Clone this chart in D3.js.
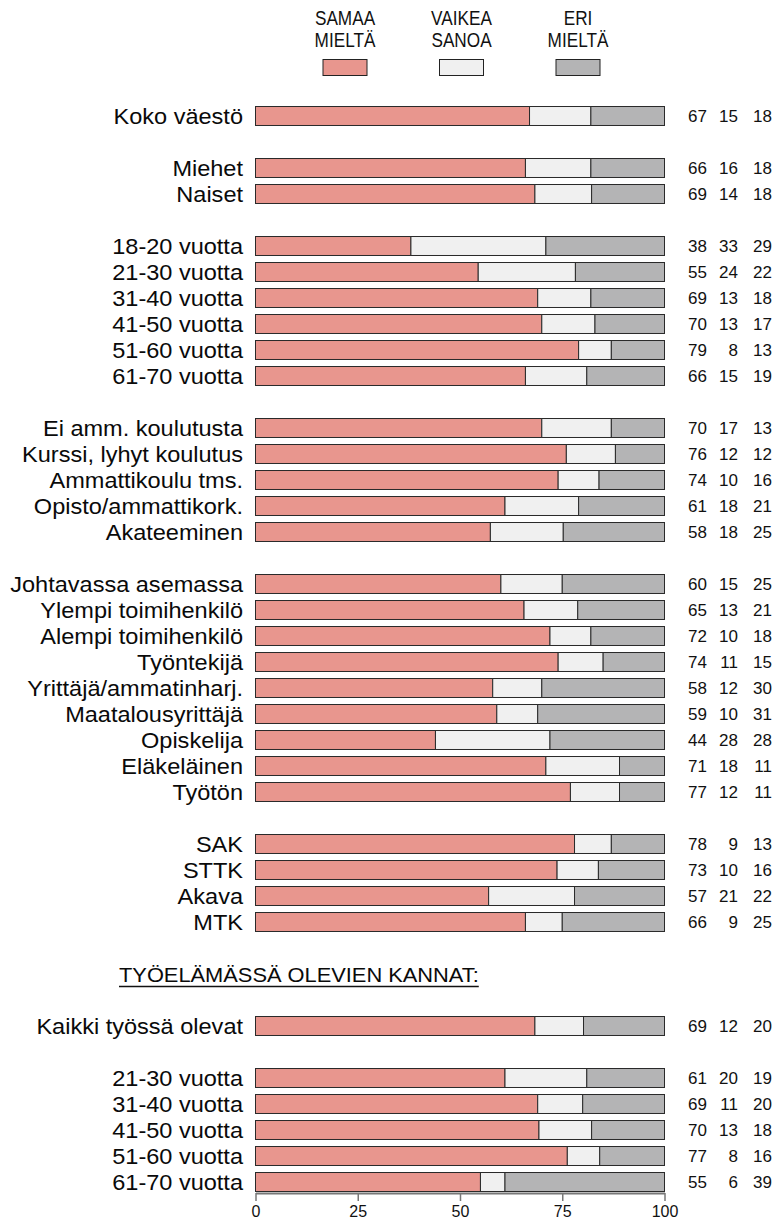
<!DOCTYPE html>
<html>
<head>
<meta charset="utf-8">
<script src="https://cdn.jsdelivr.net/npm/d3@7"></script>
<style>
  body { margin: 0; background: #fff; }
  svg { font-family: "Liberation Sans", Arial, sans-serif; }
</style>
</head>
<body>
<div id="chart"></div>
<script>
// rows of the chart, null = empty row between groups
const sectionTitle = "TYÖELÄMÄSSÄ OLEVIEN KANNAT:";
const labels = [
	"Koko väestö", null,
	"Miehet", "Naiset", null,
	"18-20 vuotta", "21-30 vuotta", "31-40 vuotta", "41-50 vuotta", "51-60 vuotta", "61-70 vuotta", null,
	"Ei amm. koulutusta", "Kurssi, lyhyt koulutus", "Ammattikoulu tms.", "Opisto/ammattikork.", "Akateeminen", null,
	"Johtavassa asemassa", "Ylempi toimihenkilö", "Alempi toimihenkilö", "Työntekijä", "Yrittäjä/ammatinharj.",
	"Maatalousyrittäjä", "Opiskelija", "Eläkeläinen", "Työtön", null,
	"SAK", "STTK", "Akava", "MTK", null,
	sectionTitle, null,
	"Kaikki työssä olevat", null,
	"21-30 vuotta", "31-40 vuotta", "41-50 vuotta", "51-60 vuotta", "61-70 vuotta"
];
const samaa  = [67,null, 66,69,null, 38,55,69,70,79,66,null, 70,76,74,61,58,null, 60,65,72,74,58,59,44,71,77,null, 78,73,57,66,null, null,null, 69,null, 61,69,70,77,55];
const vaikea = [15,null, 16,14,null, 33,24,13,13,8,15,null, 17,12,10,18,18,null, 15,13,10,11,12,10,28,18,12,null, 9,10,21,9,null, null,null, 12,null, 20,11,13,8,6];
const eri    = [18,null, 18,18,null, 29,22,18,17,13,19,null, 13,12,16,21,25,null, 25,21,18,15,30,31,28,11,11,null, 13,16,22,25,null, null,null, 20,null, 19,20,18,16,39];

const seriesNames = [["SAMAA", "MIELTÄ"], ["VAIKEA", "SANOA"], ["ERI", "MIELTÄ"]];
const colors = ["#e8968e", "#f0f0f0", "#b4b4b5"];
const tickValues = [0, 25, 50, 75, 100];

const width = 782, height = 1225;
const svg = d3.select("#chart").append("svg")
	.attr("width", width)
	.attr("height", height);

const x = d3.scaleLinear().domain([0, 100]).range([255.5, 664.5]);
const y = d3.scaleBand()
	.domain(labels.map((d, i) => i))
	.range([103, 103 + labels.length * 26])
	.paddingInner(0.27)
	.paddingOuter(0.135);

// table of rows that have values, normalised to 100
const rows = labels.map((l, i) => ({i: i, label: l, vals: [samaa[i], vaikea[i], eri[i]]}))
	.filter(d => d.vals[0] != null);
rows.forEach(d => {
	let tot = d3.sum(d.vals), c = 0;
	d.segs = d.vals.map((v, k) => {
		let s = {k: k, x0: c / tot * 100, x1: (c + v) / tot * 100};
		c += v;
		return s;
	});
});

// legend
const legendX = [345, 461.5, 578];
const legend = svg.append("g").selectAll("g")
	.data(seriesNames)
	.join("g")
	.attr("transform", (d, i) => `translate(${legendX[i]},0)`);
legend.selectAll("text")
	.data(d => d)
	.join("text")
	.attr("transform", (d, j) => `translate(0,${25 + j * 22}) scale(0.86,1)`)
	.attr("text-anchor", "middle")
	.style("font-size", "20px")
	.attr("fill", "#111")
	.text(d => d);
legend.append("rect")
	.attr("x", -22).attr("y", 59.5)
	.attr("width", 44).attr("height", 16)
	.attr("fill", (d, i) => colors[i])
	.attr("stroke", "#222");

// bars
const bars = svg.append("g").selectAll("g")
	.data(rows)
	.join("g")
	.attr("transform", d => `translate(0,${y(d.i)})`);
bars.selectAll("rect")
	.data(d => d.segs)
	.join("rect")
	.attr("x", s => x(s.x0))
	.attr("width", s => x(s.x1) - x(s.x0))
	.attr("height", y.bandwidth())
	.attr("fill", s => colors[s.k])
	.attr("stroke", "#2a2a2a")
	.attr("stroke-width", 1);

// row labels
svg.append("g").selectAll("text")
	.data(rows)
	.join("text")
	.attr("transform", d => `translate(243,${y(d.i) + y.bandwidth() / 2}) scale(1.07,1)`)
	.attr("dy", "0.36em")
	.attr("text-anchor", "end")
	.style("font-size", "22px")
	.attr("fill", "#0a0a0a")
	.text(d => d.label);

// numbers on the right
const numX = [707, 738, 772];
bars.selectAll("text")
	.data(d => d.vals)
	.join("text")
	.attr("x", (v, k) => numX[k])
	.attr("y", y.bandwidth() / 2)
	.attr("dy", "0.36em")
	.attr("text-anchor", "end")
	.style("font-size", "17px")
	.attr("fill", "#111")
	.text(v => v);

// section title
const ti = labels.indexOf(sectionTitle);
const title = svg.append("text")
	.attr("transform", `translate(119,${y(ti) + y.bandwidth() / 2}) scale(1.04,1)`)
	.attr("dy", "0.36em")
	.style("font-size", "21px")
	.attr("fill", "#0a0a0a")
	.text(sectionTitle);
const tw = title.node().getComputedTextLength() * 1.04;
svg.append("line")
	.attr("x1", 119).attr("x2", 119 + tw)
	.attr("y1", y(ti) + y.bandwidth() / 2 + 12.5)
	.attr("y2", y(ti) + y.bandwidth() / 2 + 12.5)
	.attr("stroke", "#111").attr("stroke-width", 1.3);

// x axis
const axisY = y(labels.length - 1) + y.bandwidth() + 1.5;
const xAxis = svg.append("g")
	.attr("transform", `translate(0,${axisY})`)
	.call(d3.axisBottom(x).tickValues(tickValues).tickSize(8).tickSizeOuter(0));
xAxis.select(".domain").attr("stroke", "#777").attr("stroke-width", 2);
xAxis.selectAll(".tick line").attr("stroke", "#777").attr("stroke-width", 1.5);
xAxis.selectAll(".tick text")
	.attr("y", 13)
	.style("font-size", "16px")
	.style("font-family", "Liberation Sans, Arial, sans-serif")
	.attr("fill", "#111");
</script>
</body>
</html>
